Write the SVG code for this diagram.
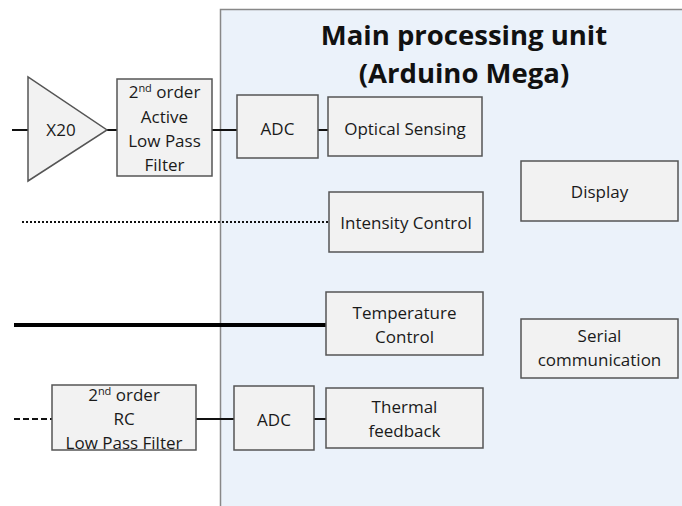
<svg xmlns="http://www.w3.org/2000/svg" width="682" height="506" viewBox="0 0 682 506">
<style>
.box{fill:#f2f2f2;stroke:#555;stroke-width:1.5}
.t{font-family:"Open Sans","Noto Sans",sans-serif;font-size:17px;fill:#1a1a1a;text-anchor:middle}
.title{font-family:"Open Sans","Noto Sans",sans-serif;font-size:27.5px;font-weight:bold;fill:#111;text-anchor:middle}
.ln{stroke:#111;stroke-width:2;fill:none}
</style>
<rect width="682" height="506" fill="#fff"/>
<g id="main-unit">
<rect x="220.5" y="9.5" width="480" height="510" fill="#ebf2fa" stroke="#888" stroke-width="1.5"/>
<text class="title" x="464" y="45">Main processing unit</text>
<text class="title" x="464" y="83">(Arduino Mega)</text>
</g>
<g id="connectors">
<line class="ln" x1="12" y1="130" x2="28" y2="130"/>
<line class="ln" x1="107" y1="130" x2="117" y2="130"/>
<line class="ln" x1="212" y1="130" x2="237" y2="130"/>
<line class="ln" x1="318" y1="130" x2="328" y2="130"/>
<line x1="22" y1="222" x2="329" y2="222" stroke="#111" stroke-width="2" stroke-dasharray="2,2"/>
<line x1="14" y1="325" x2="326" y2="325" stroke="#000" stroke-width="4"/>
<line x1="14" y1="419" x2="52" y2="419" stroke="#111" stroke-width="2" stroke-dasharray="6,3"/>
<line class="ln" x1="196" y1="419" x2="234" y2="419"/>
<line class="ln" x1="314" y1="419" x2="326" y2="419"/>
</g>
<g id="amplifier">
<polygon points="28,77 28,181 107,130" class="box"/>
<text class="t" x="61" y="136">X20</text>
</g>
<g id="active-filter">
<rect class="box" x="117" y="79" width="95" height="97"/>
<text class="t" x="164.5" y="98">2<tspan font-size="11" dy="-6">nd</tspan><tspan dy="6"> order</tspan></text>
<text class="t" x="164.5" y="123">Active</text>
<text class="t" x="164.5" y="147">Low Pass</text>
<text class="t" x="164.5" y="171">Filter</text>
</g>
<g id="adc1">
<rect class="box" x="237" y="95" width="81" height="63"/>
<text class="t" x="277.5" y="135">ADC</text>
</g>
<g id="optical-sensing">
<rect class="box" x="328" y="97" width="154" height="59"/>
<text class="t" x="405" y="135">Optical Sensing</text>
</g>
<g id="intensity-control">
<rect class="box" x="329" y="192" width="154" height="60"/>
<text class="t" x="406" y="229">Intensity Control</text>
</g>
<g id="temperature-control">
<rect class="box" x="326" y="292" width="157" height="63"/>
<text class="t" x="404.5" y="319">Temperature</text>
<text class="t" x="404.5" y="343">Control</text>
</g>
<g id="display">
<rect class="box" x="521" y="161" width="157" height="60"/>
<text class="t" x="599.5" y="198">Display</text>
</g>
<g id="serial-communication">
<rect class="box" x="521" y="319" width="157" height="59"/>
<text class="t" x="599.5" y="342">Serial</text>
<text class="t" x="599.5" y="366">communication</text>
</g>
<g id="rc-filter">
<rect x="52" y="385" width="144" height="65" fill="#f2f2f2"/>
<text class="t" x="124" y="401">2<tspan font-size="11" dy="-6">nd</tspan><tspan dy="6"> order</tspan></text>
<text class="t" x="124" y="425">RC</text>
<text class="t" x="124" y="449">Low Pass Filter</text>
<rect x="52" y="385" width="144" height="65" fill="none" stroke="#555" stroke-width="1.5"/>
</g>
<g id="adc2">
<rect class="box" x="234" y="386" width="80" height="64"/>
<text class="t" x="274" y="426">ADC</text>
</g>
<g id="thermal-feedback">
<rect class="box" x="326" y="388" width="157" height="60"/>
<text class="t" x="404.5" y="413">Thermal</text>
<text class="t" x="404.5" y="437">feedback</text>
</g>
</svg>
